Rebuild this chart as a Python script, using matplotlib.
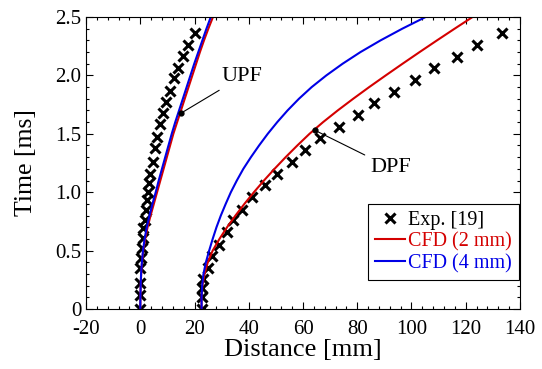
import numpy as np
import matplotlib
matplotlib.use("Agg")
import matplotlib.pyplot as plt
from matplotlib.ticker import MultipleLocator
from matplotlib.lines import Line2D

plt.rcParams["font.family"] = ["Liberation Serif", "DejaVu Serif"]
plt.rcParams["axes.unicode_minus"] = False

# experiment [19], flame tip positions (mm) vs time (ms)
upf_exp_t = [0, 0.12, 0.22, 0.35, 0.44, 0.52, 0.61, 0.69, 0.76, 0.85, 0.93, 1.00, 1.08,
             1.16, 1.26, 1.38, 1.47, 1.58, 1.68, 1.77, 1.87, 1.98, 2.06, 2.17, 2.26, 2.36]
upf_exp_x = [0, 0, 0, 0, 0.15, 0.5, 0.9, 1.1, 1.7, 2.1, 2.4, 2.9, 3.3,
             3.6, 4.6, 5.4, 6.3, 7.3, 8.5, 9.5, 10.9, 12.4, 13.8, 15.6, 17.5, 20.2]
dpf_exp_t = [0, 0.105, 0.18, 0.26, 0.35, 0.45, 0.55, 0.66, 0.76, 0.85, 0.96, 1.06, 1.16,
             1.26, 1.36, 1.46, 1.56, 1.66, 1.76, 1.86, 1.96, 2.06, 2.16, 2.26, 2.36]
dpf_exp_x = [22.6, 22.6, 22.6, 23.2, 25.1, 26.3, 29.1, 31.9, 34.3, 37.4, 41.1, 46.0, 50.3,
             55.8, 60.7, 66.2, 73.4, 80.4, 86.2, 93.5, 101.3, 108.3, 116.9, 124.0, 133.3]

# CFD results
cfd_t = [0.0, 0.1, 0.2, 0.3, 0.4, 0.5, 0.6, 0.7, 0.8, 0.9, 1.0, 1.1, 1.2,
         1.3, 1.4, 1.5, 1.6, 1.7, 1.8, 1.9, 2.0, 2.1, 2.2, 2.3, 2.4, 2.5]
upf_2mm = [0, 0.05, 0.15, 0.35, 0.65, 1.1, 1.8, 2.7, 3.8, 5.0, 6.2, 7.4, 8.6,
           9.8, 11.0, 12.2, 13.6, 15.0, 16.4, 17.8, 19.2, 20.6, 22.0, 23.5, 25.1, 26.8]
upf_4mm = [0, 0.05, 0.15, 0.3, 0.6, 1.0, 1.6, 2.4, 3.4, 4.5, 5.7, 6.8, 8.0,
           9.2, 10.4, 11.6, 12.9, 14.3, 15.7, 17.1, 18.5, 19.9, 21.4, 22.9, 24.4, 26.0]
dpf_2mm = [22.6, 22.6, 22.9, 23.7, 24.9, 26.7, 29.2, 32.0, 35.1, 38.4, 41.9, 45.6, 49.5,
           53.6, 57.9, 62.4, 67.4, 72.8, 78.5, 84.4, 90.5, 96.7, 103.0, 109.4, 115.9, 122.5]
dpf_4mm = [22.6, 22.6, 22.8, 23.3, 24.2, 25.4, 26.7, 28.1, 29.7, 31.5, 33.4, 35.6, 38.0,
           40.8, 43.8, 47.0, 50.5, 54.3, 58.5, 63.2, 68.6, 74.6, 81.2, 88.6, 96.6, 105.2]

red = "#d40000"
blue = "#0000e6"

fig = plt.figure(figsize=(5.42, 3.69), dpi=100)
ax = fig.add_axes([0.1587, 0.1626, 0.8007, 0.7913])

xkw = dict(ls="none", marker="x", ms=7.5, mew=2.2, color="black")
ax.plot(upf_exp_x, upf_exp_t, **xkw)
ax.plot(dpf_exp_x, dpf_exp_t, **xkw)
ax.plot(upf_2mm, cfd_t, color=red, lw=1.5)
ax.plot(dpf_2mm, cfd_t, color=red, lw=1.5)
ax.plot(upf_4mm, cfd_t, color=blue, lw=1.5)
ax.plot(dpf_4mm, cfd_t, color=blue, lw=1.5)

# labels of the two flame fronts
ax.annotate("UPF", xy=(14.9, 1.675), xytext=(30.0, 1.99), fontsize=16, va="center",
            arrowprops=dict(arrowstyle="-", color="black", lw=0.8, shrinkA=2, shrinkB=0))
ax.annotate("DPF", xy=(64.4, 1.53), xytext=(84.7, 1.21), fontsize=16, va="center",
            arrowprops=dict(arrowstyle="-", color="black", lw=0.8, shrinkA=2, shrinkB=0))
ax.plot([14.9, 64.4], [1.675, 1.53], ls="none", marker="o", ms=3.5, color="black", zorder=5)

ax.set_xlim(-20, 140)
ax.set_ylim(0, 2.5)
ax.xaxis.set_major_locator(MultipleLocator(20))
ax.xaxis.set_minor_locator(MultipleLocator(4))
ax.yaxis.set_major_locator(MultipleLocator(0.5))
ax.yaxis.set_minor_locator(MultipleLocator(0.1))
ax.set_yticks([0, 0.5, 1.0, 1.5, 2.0, 2.5])
ax.set_yticklabels(["0", "0.5", "1.0", "1.5", "2.0", "2.5"])
ax.tick_params(which="both", direction="in", top=True, right=True, labelsize=15)
ax.tick_params(axis="x", pad=8)
ax.tick_params(which="major", length=5, width=0.8)
ax.tick_params(which="minor", length=2.5, width=0.8)
ax.set_xlabel("Distance [mm]", fontsize=19, labelpad=0)
ax.set_ylabel("Time [ms]", fontsize=18.5, labelpad=13)

handles = [Line2D([], [], **xkw),
           Line2D([], [], color=red, lw=1.5),
           Line2D([], [], color=blue, lw=1.5)]
leg = ax.legend(handles, ["Exp. [19]", "CFD (2 mm)", "CFD (4 mm)"], loc="lower right",
                bbox_to_anchor=(0.998, 0.099), borderaxespad=0, fontsize=14.5,
                handlelength=1.5, handletextpad=0.15, labelspacing=0.12,
                fancybox=False, framealpha=1, borderpad=0.35)
leg.get_frame().set_edgecolor("black")
leg.get_frame().set_linewidth(0.8)
for txt, c in zip(leg.get_texts(), ["black", red, blue]):
    txt.set_color(c)

fig.savefig("out.png", dpi=100)
